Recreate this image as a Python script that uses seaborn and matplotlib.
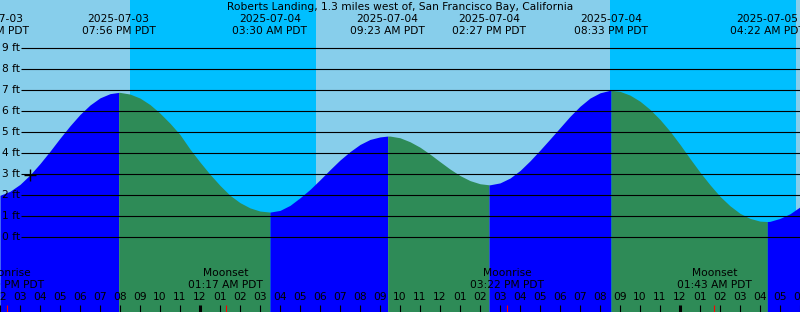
import pandas as pd
import numpy as np
import matplotlib
matplotlib.use("Agg")
import matplotlib.pyplot as plt
import seaborn as sns

# data
title = "Roberts Landing, 1.3 miles west of, San Francisco Bay, California"
start = pd.Timestamp("2025-07-03 14:00")
end = pd.Timestamp("2025-07-05 06:00")

# tide level (ft) every half hour from 02:00 PM Jul 3 to 06:00 AM Jul 5
tide_ft = [2.0, 2.19, 2.52, 2.97, 3.51, 4.10, 4.72, 5.31, 5.85, 6.30, 6.64, 6.84,
           6.9, 6.82, 6.63, 6.32, 5.91, 5.43, 4.89, 4.2, 3.58, 3.0, 2.47, 2.0,
           1.65, 1.4, 1.25, 1.2, 1.28, 1.52, 1.88, 2.28, 2.74, 3.22, 3.68, 4.08,
           4.42, 4.66, 4.78, 4.82, 4.74, 4.55, 4.29, 3.96, 3.60, 3.25, 2.94, 2.70,
           2.55, 2.5, 2.59, 2.82, 3.18, 3.64, 4.15, 4.68, 5.22, 5.76, 6.24, 6.63,
           6.88, 7.0, 6.95, 6.77, 6.48, 6.09, 5.61, 5.05, 4.42, 3.75, 3.1, 2.5,
           1.95, 1.5, 1.14, 0.9, 0.77, 0.76, 0.9, 1.12, 1.45]

# high / low tide events shown along the top
event_time = ["2025-07-03 13:36", "2025-07-03 19:56", "2025-07-04 03:30", "2025-07-04 09:23",
              "2025-07-04 14:27", "2025-07-04 20:33", "2025-07-05 04:22"]
event_label = ["01:36 PM PDT", "07:56 PM PDT", "03:30 AM PDT", "09:23 AM PDT",
               "02:27 PM PDT", "08:33 PM PDT", "04:22 AM PDT"]
event_ft = [1.95, 6.9, 1.2, 4.82, 2.5, 7.0, 0.75]

# sun and moon
sunset = ["2025-07-03 20:30", "2025-07-04 20:30"]
sunrise = ["2025-07-04 05:48", "2025-07-05 05:48"]
moon_time = ["2025-07-03 14:20", "2025-07-04 01:17", "2025-07-04 15:22", "2025-07-05 01:43"]
moon_name = ["Moonrise", "Moonset", "Moonrise", "Moonset"]
moon_label = ["02:20 PM PDT", "01:17 AM PDT", "03:22 PM PDT", "01:43 AM PDT"]

ft_levels = list(range(0, 10))

day_col = "#87CEEB"
night_col = "#00BFFF"
flood_col = "#0000FF"
ebb_col = "#2E8B57"


def hrs(t):
    return np.asarray((pd.to_datetime(t) - start) / pd.Timedelta(hours=1))


sns.set_style("white")
plt.rcParams['font.family'] = ['DejaVu Sans']
plt.rcParams['text.color'] = 'black'
fs = 7.7

half_hours = pd.date_range(start, end, freq="30min")
df = pd.DataFrame({"h": np.concatenate([hrs(half_hours), hrs(event_time)]),
                   "ft": tide_ft + event_ft})
x0, x1 = 0, 40
df = df[(df.h >= x0) & (df.h <= x1)].sort_values("h").reset_index(drop=True)
ev_h = hrs(event_time)

fig = plt.figure(figsize=(8, 3.12), dpi=100)
ax = fig.add_axes([0, 0, 1, 1])
ax.set_xlim(x0, x1)
ax.set_ylim((237.3 - 312) / 21, 237.3 / 21)
ax.axis("off")

# day / night background
ax.axvspan(x0, x1, color=day_col, lw=0, zorder=0)
for a, b in zip(hrs(sunset), hrs(sunrise)):
    ax.axvspan(a, b, color=night_col, lw=0, zorder=0)

# tide fill, flood blue / ebb green
bounds = [x0] + [e for e in ev_h if x0 < e < x1] + [x1]
ybot = ax.get_ylim()[0]
for a, b in zip(bounds[:-1], bounds[1:]):
    seg = df[(df.h >= a - 1e-6) & (df.h <= b + 1e-6)]
    rising = seg.ft.iloc[-1] > seg.ft.iloc[0]
    ax.fill_between(seg.h, seg.ft, ybot, color=flood_col if rising else ebb_col,
                    lw=0, zorder=1)

# foot lines and labels
for f in ft_levels:
    ax.hlines(f, 1.05, x1, color="black", lw=0.8, zorder=2)
    ax.text(1.0, f, f"{f} ft", ha="right", va="center", fontsize=fs, zorder=3)

# current time marker
now_h = 1.5
sns.scatterplot(x=[now_h], y=[np.interp(now_h, df.h, df.ft)], marker="+", s=70,
                color="black", linewidth=1, ax=ax, zorder=4, legend=False)

tr = ax.get_xaxis_transform()
H = 312.0
ax.text(20, 1 - 7.5 / H, title, ha="center", va="center", fontsize=fs, transform=tr)
for h, t, lab in zip(ev_h, event_time, event_label):
    ax.text(h, 1 - 19.5 / H, t[:10], ha="center", va="center", fontsize=fs, transform=tr)
    ax.text(h, 1 - 31.5 / H, lab, ha="center", va="center", fontsize=fs, transform=tr)

# hour ticks along the bottom
for h in range(x0, x1 + 1):
    hour12 = (14 + h) % 12 or 12
    ax.text(h, 1 - 297 / H, f"{hour12:02d}", ha="center", va="center", fontsize=fs,
            transform=tr, zorder=3)
    midnight = (14 + h) % 24 == 0
    ax.vlines(h, 0, 7 / H, color="black", lw=2.2 if midnight else 0.8, transform=tr,
              zorder=3)

for h, name, lab in zip(hrs(moon_time), moon_name, moon_label):
    ax.vlines(h, 0, 7 / H, color="red", lw=0.8, transform=tr, zorder=3)
    ax.text(h, 1 - 273.5 / H, name, ha="center", va="center", fontsize=fs, transform=tr)
    ax.text(h, 1 - 285.5 / H, lab, ha="center", va="center", fontsize=fs, transform=tr)

fig.savefig("out.png", dpi=100)
